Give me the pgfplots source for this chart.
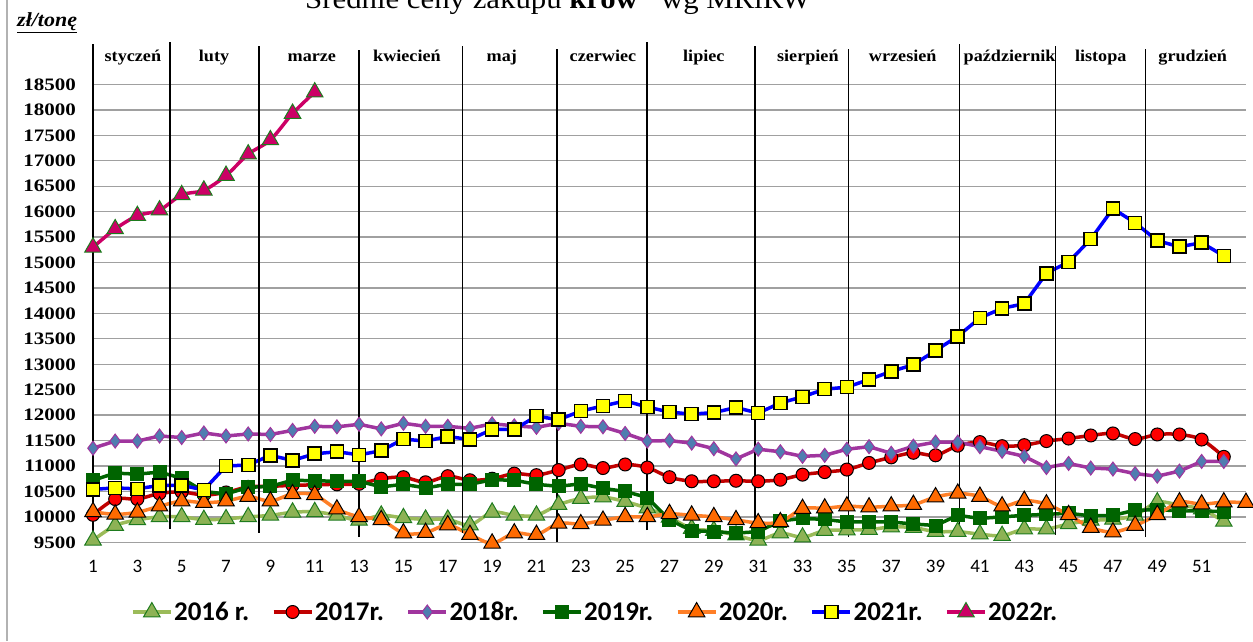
\documentclass[border=0pt]{standalone}
\usepackage{fontspec}
\setmainfont{Liberation Serif}
\newfontfamily\ylab[FakeStretch=1.2]{Liberation Serif}
\newfontfamily\mlab[FakeStretch=1.1]{Liberation Serif}
\newfontfamily\ttl[FakeStretch=1.1]{Liberation Serif}
\newfontfamily\calib{Carlito}
\usepackage{pgfplots}
\pgfplotsset{compat=1.18}
\definecolor{c16line}{HTML}{9BBB59}
\definecolor{c16fill}{HTML}{8DB255}
\definecolor{c16edge}{HTML}{1E7B1E}
\definecolor{c17line}{HTML}{C00000}
\definecolor{c17fill}{HTML}{FF0000}
\definecolor{c18line}{HTML}{A0359E}
\definecolor{c18fill}{HTML}{4F7DB0}
\definecolor{c19}{HTML}{006400}
\definecolor{c20line}{HTML}{FF7F27}
\definecolor{c20fill}{HTML}{FF6A00}
\definecolor{c21line}{HTML}{0000FF}
\definecolor{c21fill}{HTML}{FFFF00}
\definecolor{c22}{HTML}{CC0066}
\definecolor{gridc}{HTML}{A0A0A0}
\begin{document}
\begin{tikzpicture}[x=1pt,y=1pt]
\useasboundingbox (0,0) rectangle (1253,641);
\draw[color=gray!60, line width=1.2pt] (7,0) -- (7,641);
\node[anchor=base west, inner sep=0pt, font=\ttl\fontsize{28}{30}\selectfont] at (305,632) {Średnie ceny zakupu \textbf{krów}* wg MRiRW};
\node[anchor=base west, inner sep=0pt, font=\mlab\fontsize{20}{22}\selectfont] at (17,614) {\underline{\textbf{\textit{zł/tonę}}}};
\begin{axis}[
  at={(93pt,98.7pt)}, anchor=south west, scale only axis,
  width=1153pt, height=457.8pt,
  xmin=1, xmax=53, ymin=9500, ymax=18500,
  clip=false,
  axis line style={draw=none},
  tick style={draw=none},
  ymajorgrids, grid style={gridc, line width=1.3pt},
  ytick={9500,10000,...,18500},
  xtick={1,3,...,51},
  scaled y ticks=false, scaled x ticks=false,
  /pgf/number format/.cd, 1000 sep={}, assume math mode=true,
  /pgfplots/.cd,
  yticklabel style={font=\ylab\bfseries\fontsize{17.5}{20}\selectfont, anchor=east, inner sep=0pt, xshift=-17pt},
  xticklabel style={font=\calib\fontsize{19}{21}\selectfont, anchor=north, inner sep=0pt, yshift=-18pt},
  legend columns=-1,
  legend style={at={(0.4354,-0.1523)}, anchor=center, draw=none, fill=none,
    font=\calib\bfseries\fontsize{27}{30}\selectfont,
    nodes={inner sep=1.5pt},
    /tikz/every even column/.append style={column sep=21pt}},
  legend image code/.code={\draw[mark repeat=2,mark phase=2,#1] plot coordinates {(0pt,0pt) (19pt,0pt) (38pt,0pt)};},
]
% 2016
\addplot[smooth, c16line, line width=3.5pt, mark=triangle*, mark size=9.5pt,
  mark options={fill=c16fill, draw=c16edge, line width=1pt, solid}] coordinates {
(1,9540) (2,9830) (3,9940) (4,10000) (5,10000) (6,9945) (7,9960) (8,10000) (9,10030) (10,10090)
(11,10100) (12,10030) (13,9930) (14,10030) (15,9980) (16,9950) (17,9950) (18,9840) (19,10090) (20,10030)
(21,10030) (22,10240) (23,10360) (24,10390) (25,10300) (26,10170) (27,9990) (28,9770) (29,9730) (30,9640)
(31,9540) (32,9680) (33,9600) (34,9730) (35,9740) (36,9750) (37,9800) (38,9790) (39,9710) (40,9710)
(41,9660) (42,9630) (43,9760) (44,9760) (45,9860) (46,9930) (47,9950) (48,10030) (49,10290) (50,10230)
(51,10150) (52,9910)};
\addlegendentry{2016 r.}
% 2017
\addplot[smooth, c17line, line width=3.5pt, mark=*, mark size=6.5pt,
  mark options={fill=c17fill, draw=black, line width=1pt, solid}] coordinates {
(1,10040) (2,10350) (3,10350) (4,10460) (5,10490) (6,10430) (7,10480) (8,10590) (9,10600) (10,10620)
(11,10630) (12,10640) (13,10650) (14,10750) (15,10780) (16,10680) (17,10800) (18,10720) (19,10750) (20,10850)
(21,10820) (22,10920) (23,11030) (24,10960) (25,11030) (26,10970) (27,10780) (28,10700) (29,10700) (30,10710)
(31,10700) (32,10730) (33,10830) (34,10880) (35,10930) (36,11060) (37,11170) (38,11260) (39,11210) (40,11400)
(41,11470) (42,11390) (43,11410) (44,11490) (45,11540) (46,11600) (47,11640) (48,11530) (49,11620) (50,11620)
(51,11520) (52,11180)};
\addlegendentry{2017r.}
% 2018
\addplot[c18line, line width=3.5pt, mark=diamond*, mark size=7pt,
  mark options={fill=c18fill, draw=c18line, line width=1pt, solid}] coordinates {
(1,11350) (2,11490) (3,11490) (4,11590) (5,11560) (6,11650) (7,11590) (8,11630) (9,11620) (10,11700)
(11,11780) (12,11770) (13,11820) (14,11730) (15,11840) (16,11780) (17,11780) (18,11740) (19,11830) (20,11790)
(21,11760) (22,11840) (23,11780) (24,11770) (25,11640) (26,11490) (27,11500) (28,11450) (29,11340) (30,11140)
(31,11330) (32,11280) (33,11190) (34,11210) (35,11330) (36,11380) (37,11250) (38,11390) (39,11470) (40,11470)
(41,11380) (42,11290) (43,11190) (44,10970) (45,11050) (46,10960) (47,10940) (48,10850) (49,10800) (50,10900)
(51,11090) (52,11090)};
\addlegendentry{2018r.}
% 2019
\addplot[c19, line width=3.5pt, mark=square*, mark size=6.5pt,
  mark options={fill=c19, draw=c19, line width=1pt, solid}] coordinates {
(1,10720) (2,10860) (3,10840) (4,10880) (5,10760) (6,10500) (7,10450) (8,10580) (9,10600) (10,10720)
(11,10710) (12,10700) (13,10700) (14,10590) (15,10640) (16,10570) (17,10640) (18,10640) (19,10730) (20,10720)
(21,10640) (22,10600) (23,10650) (24,10560) (25,10500) (26,10380) (27,9940) (28,9730) (29,9710) (30,9680)
(31,9710) (32,9920) (33,9970) (34,9950) (35,9900) (36,9900) (37,9900) (38,9860) (39,9830) (40,10030)
(41,9970) (42,10000) (43,10030) (44,10050) (45,10070) (46,10020) (47,10030) (48,10130) (49,10140) (50,10120)
(51,10120) (52,10100)};
\addlegendentry{2019r.}
% 2020
\addplot[smooth, c20line, line width=3.5pt, mark=triangle*, mark size=9.5pt,
  mark options={fill=c20fill, draw=black, line width=1pt, solid}] coordinates {
(1,10100) (2,10050) (3,10090) (4,10210) (5,10310) (6,10280) (7,10310) (8,10400) (9,10310) (10,10450)
(11,10430) (12,10150) (13,10000) (14,9940) (15,9680) (16,9690) (17,9840) (18,9650) (19,9480) (20,9680)
(21,9650) (22,9870) (23,9860) (24,9930) (25,10000) (26,10000) (27,10060) (28,10030) (29,10000) (30,9940)
(31,9880) (32,9900) (33,10160) (34,10170) (35,10210) (36,10190) (37,10210) (38,10240) (39,10390) (40,10460)
(41,10400) (42,10210) (43,10320) (44,10250) (45,10040) (46,9790) (47,9700) (48,9830) (49,10040) (50,10290)
(51,10250) (52,10290) (53,10280)};
\addlegendentry{2020r.}
% 2021
\addplot[c21line, line width=3.5pt, mark=square*, mark size=6.5pt,
  mark options={fill=c21fill, draw=black, line width=1.6pt, solid}] coordinates {
(1,10540) (2,10570) (3,10550) (4,10620) (5,10620) (6,10530) (7,11000) (8,11020) (9,11210) (10,11110)
(11,11240) (12,11280) (13,11220) (14,11300) (15,11530) (16,11490) (17,11580) (18,11520) (19,11720) (20,11720)
(21,11980) (22,11910) (23,12080) (24,12180) (25,12280) (26,12160) (27,12060) (28,12020) (29,12050) (30,12150)
(31,12040) (32,12240) (33,12360) (34,12510) (35,12550) (36,12700) (37,12860) (38,12990) (39,13270) (40,13550)
(41,13910) (42,14100) (43,14190) (44,14790) (45,15010) (46,15460) (47,16060) (48,15780) (49,15430) (50,15310)
(51,15390) (52,15130)};
\addlegendentry{2021r.}
% 2022
\addplot[smooth, c22, line width=3.5pt, mark=triangle*, mark size=9.5pt,
  mark options={fill=c22, draw=c16edge, line width=1pt, solid}] coordinates {
(1,15300) (2,15660) (3,15920) (4,16030) (5,16330) (6,16420) (7,16710) (8,17130) (9,17410) (10,17930) (11,18350)};
\addlegendentry{2022r.}
% month separators
\foreach \xx/\yt/\yb in {1/19300/9500, 4.47/19330/9760, 8.48/19250/9690, 12.99/19170/9600, 17.68/19250/9690, 21.92/19200/9500, 25.98/19330/9740, 30.85/19250/9690, 35.08/19200/9600, 40.09/19300/9650, 44.42/19250/9650, 48.47/19200/9600}{
  \edef\tmp{\noexpand\draw[black, line width=1.3pt] (axis cs:\xx,\yb) -- (axis cs:\xx,\yt);}
  \tmp
}
\foreach \xx/\lab in {2.8/styczeń, 6.46/luty, 10.87/marze, 15.16/kwiecień, 19.44/maj, 24.0/czerwiec, 28.55/lipiec, 33.24/sierpień, 37.52/wrzesień, 42.34/październik, 46.45/listopa, 50.6/grudzień}{
  \edef\tmp{\noexpand\node[font=\noexpand\mlab\noexpand\bfseries\noexpand\fontsize{16.5}{19}\noexpand\selectfont, anchor=base, inner sep=0pt] at (axis cs:\xx,18960) {\unexpanded\expandafter{\lab}};}
  \tmp
}
\end{axis}
\end{tikzpicture}
\end{document}
